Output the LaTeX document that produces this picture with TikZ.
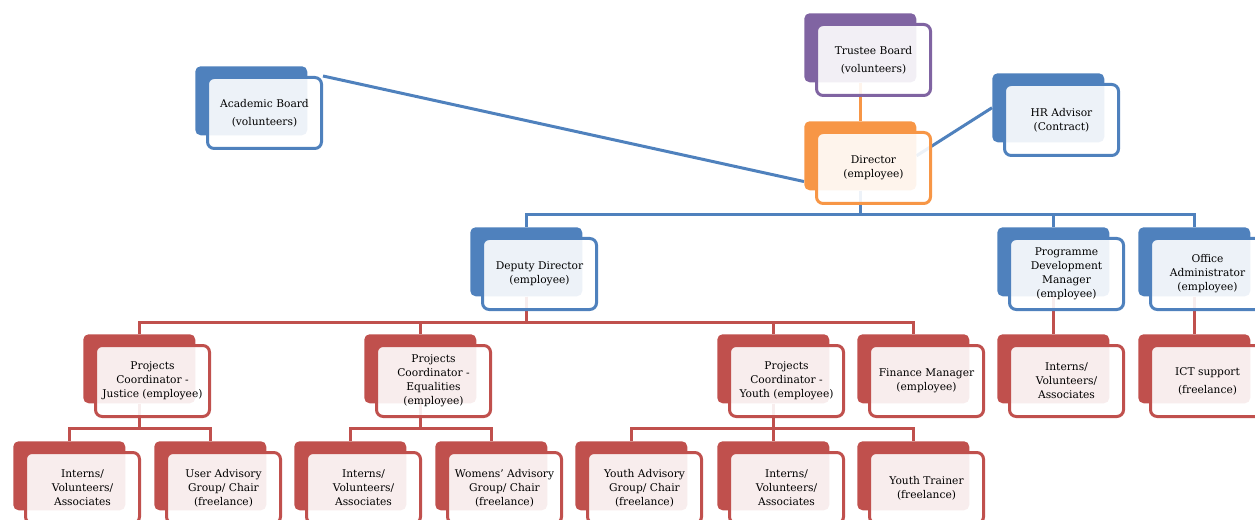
\documentclass[tikz,border=0pt]{standalone}
\usepackage{fontspec}
\setmainfont{DejaVu Serif}
\usepackage{tikz}
\usetikzlibrary{backgrounds}
\definecolor{obBlue}{HTML}{4F81BD}
\definecolor{obRed}{HTML}{C0504D}
\definecolor{obOrange}{HTML}{F79646}
\definecolor{obPurple}{HTML}{8064A2}
\tikzset{x=0.75pt, y=-0.75pt,
	back/.style={fill=#1, rounded corners=4pt, minimum width=84pt, minimum height=51.75pt, inner sep=0pt, anchor=north west},
	front/.style={draw=#1, line width=2.25pt, fill=white, fill opacity=0.9, text opacity=1, rounded corners=5pt, minimum width=85.5pt, minimum height=53.25pt, inner sep=1pt, align=center, anchor=north west, font=\fontsize{8}{10.5}\selectfont},
	link/.style={draw=#1, line width=2.25pt}}
\newcommand{\orgunit}[4]{%
	\node[back=#2] (#1-b) at (#3) {};
	\node[front=#2] (#1) at ([shift={(11,10)}]#3) {#4};}

\begin{document}
\begin{tikzpicture}
	\useasboundingbox (0,0) rectangle (1255,520);
	\clip (0,0) rectangle (1255,520);
	\orgunit{acad}{obBlue}{195,66}{Academic Board\\[3pt](volunteers)}
	\orgunit{trus}{obPurple}{804,13}{Trustee Board\\[3pt](volunteers)}
	\orgunit{dir}{obOrange}{804,121}{Director\\(employee)}
	\orgunit{hr}{obBlue}{992,73}{HR Advisor\\(Contract)}
	\orgunit{dep}{obBlue}{470,227}{Deputy Director\\(employee)}
	\orgunit{pdm}{obBlue}{997,227}{Programme\\Development\\Manager\\(employee)}
	\orgunit{off}{obBlue}{1138,227}{Office\\Administrator\\(employee)}
	\orgunit{just}{obRed}{83,334}{Projects\\Coordinator -\\Justice (employee)}
	\orgunit{equ}{obRed}{364,334}{Projects\\Coordinator -\\Equalities\\(employee)}
	\orgunit{yc}{obRed}{717,334}{Projects\\Coordinator -\\Youth (employee)}
	\orgunit{fin}{obRed}{857,334}{Finance Manager\\(employee)}
	\orgunit{int4}{obRed}{997,334}{Interns/\\Volunteers/\\Associates}
	\orgunit{ict}{obRed}{1138,334}{ICT support\\[3pt](freelance)}
	\orgunit{int1}{obRed}{13,441}{Interns/\\Volunteers/\\Associates}
	\orgunit{uag}{obRed}{154,441}{User Advisory\\Group/ Chair\\(freelance)}
	\orgunit{int2}{obRed}{294,441}{Interns/\\Volunteers/\\Associates}
	\orgunit{wag}{obRed}{435,441}{Womens' Advisory\\Group/ Chair\\(freelance)}
	\orgunit{yag}{obRed}{575,441}{Youth Advisory\\Group/ Chair\\(freelance)}
	\orgunit{int3}{obRed}{717,441}{Interns/\\Volunteers/\\Associates}
	\orgunit{ytr}{obRed}{857,441}{Youth Trainer\\(freelance)}
	\begin{pgfonlayer}{background}
		\draw[link=obOrange] (trus-b.south) -- (dir-b.north);
		\draw[link=obBlue] (acad.north east) -- ([shift={(0,-9)}]dir-b.south west);
		\draw[link=obBlue] (dir-b.east) -- (hr-b.west);
		\draw[link=obBlue] (dir-b.south) -- ++(0,24) -| (dep-b.north);
		\draw[link=obBlue] (dir-b.south) -- ++(0,24) -| (pdm-b.north);
		\draw[link=obBlue] (dir-b.south) -- ++(0,24) -| (off-b.north);
		\foreach \kid in {just, equ, yc, fin}
			\draw[link=obRed] (dep-b.south) -- ++(0,26) -| (\kid-b.north);
		\draw[link=obRed] (pdm-b.south) -- (int4-b.north);
		\draw[link=obRed] (off-b.south) -- (ict-b.north);
		\foreach \kid in {int1, uag}
			\draw[link=obRed] (just-b.south) -- ++(0,25) -| (\kid-b.north);
		\foreach \kid in {int2, wag}
			\draw[link=obRed] (equ-b.south) -- ++(0,25) -| (\kid-b.north);
		\foreach \kid in {yag, int3, ytr}
			\draw[link=obRed] (yc-b.south) -- ++(0,25) -| (\kid-b.north);
	\end{pgfonlayer}
\end{tikzpicture}
\end{document}
